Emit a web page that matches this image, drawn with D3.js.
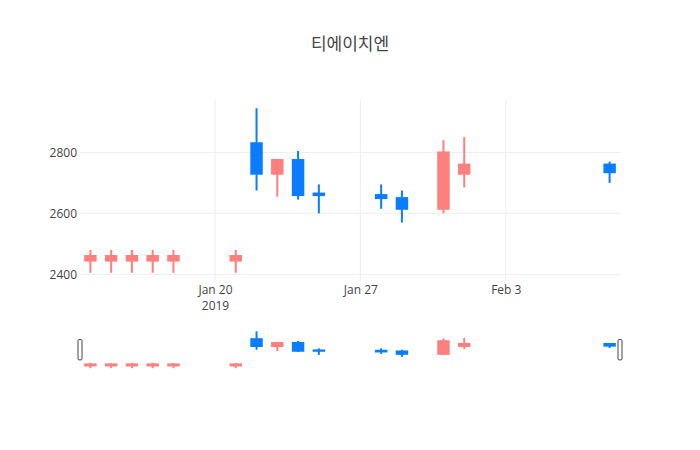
<!DOCTYPE html>
<html>
<head>
<meta charset="utf-8">
<script src="https://cdn.jsdelivr.net/npm/d3@7"></script>
<style>
  body { margin: 0; background: #fff; }
  svg { display: block; font-family: "Open Sans", "Noto Sans CJK KR", sans-serif; }
</style>
</head>
<body>
<div id="chart"></div>
<script>
const title = "티에이치엔";
const dates = ["2019-01-14","2019-01-15","2019-01-16","2019-01-17","2019-01-18","2019-01-21",
               "2019-01-22","2019-01-23","2019-01-24","2019-01-25","2019-01-28","2019-01-29",
               "2019-01-31","2019-02-01","2019-02-08"];
const open  = [2445,2445,2445,2445,2445,2445,2830,2730,2775,2665,2660,2650,2615,2730,2760];
const high  = [2480,2480,2480,2480,2480,2480,2945,2775,2805,2695,2695,2675,2840,2850,2770];
const low   = [2405,2405,2405,2405,2405,2405,2675,2655,2645,2600,2615,2570,2600,2685,2700];
const close = [2460,2460,2460,2460,2460,2460,2730,2775,2660,2660,2650,2615,2800,2760,2735];
const yTicks = [2400, 2600, 2800];
const xTicks = ["2019-01-20","2019-01-27","2019-02-03"];
const xTickLabels = ["Jan 20", "Jan 27", "Feb 3"];
const xRange = ["2019-01-13T12:00:00","2019-02-08T12:00:00"];

const incColor = "#FF7F7F";
const decColor = "#0A7DFF";

const W = 700, H = 450;
const plot = {l: 80, r: 620, t: 100, b: 281};
const slider = {t: 329.5, b: 370};

const parse = d3.isoParse;
const data = dates.map((d, i) => ({date: parse(d), o: open[i], h: high[i], l: low[i], c: close[i]}));

const svg = d3.select("#chart").append("svg").attr("width", W).attr("height", H);

const x = d3.scaleUtc().domain(xRange.map(parse)).range([plot.l, plot.r]);
const lo = d3.min(low), hi = d3.max(high), pad = (hi - lo) * 0.05;
const y = d3.scaleLinear().domain([lo - pad, hi + pad]).range([plot.b, plot.t]);
const ys = d3.scaleLinear().domain([lo - pad, hi + pad]).range([slider.b, slider.t]);

const dayPx = x(parse("2019-01-02")) - x(parse("2019-01-01"));
const bodyW = dayPx * 0.6;

// title
svg.append("text").attr("x", W / 2).attr("y", 50).attr("text-anchor", "middle")
  .attr("font-size", 17).attr("fill", "#444").text(title);

// gridlines
const grid = svg.append("g");
grid.selectAll("line.h").data(yTicks).join("line")
  .attr("x1", plot.l).attr("x2", plot.r)
  .attr("y1", d => y(d)).attr("y2", d => y(d))
  .attr("stroke", "#eee").attr("stroke-width", 1);
grid.selectAll("line.v").data(xTicks).join("line")
  .attr("x1", d => x(parse(d))).attr("x2", d => x(parse(d)))
  .attr("y1", plot.t).attr("y2", plot.b)
  .attr("stroke", "#eee").attr("stroke-width", 1);

// y axis labels
const yAxis = d3.axisLeft(y).tickValues(yTicks).tickSize(0).tickPadding(3).tickFormat(d3.format("d"));
const yg = svg.append("g").attr("transform", `translate(${plot.l - 0},0)`).call(yAxis);
yg.select(".domain").remove();
yg.selectAll("text").attr("font-size", 12).attr("fill", "#444").attr("font-family", "'Open Sans', sans-serif");

// x axis labels
const xAxis = d3.axisBottom(x).tickValues(xTicks.map(parse)).tickSize(0).tickPadding(0)
  .tickFormat((d, i) => xTickLabels[i]);
const xg = svg.append("g").attr("transform", `translate(0,${plot.b})`).call(xAxis);
xg.select(".domain").remove();
xg.selectAll("text").attr("font-size", 12).attr("fill", "#444").attr("font-family", "'Open Sans', sans-serif")
  .attr("dy", null).attr("y", 13);
xg.select(".tick text").append("tspan").attr("x", 0).attr("dy", "1.35em").text("2019");
xg.selectAll(".tick text").each(function() {
  const t = d3.select(this);
  // first text node is label; keep as-is
});

function drawCandles(g, ys) {
  const c = g.selectAll("g.candle").data(data).join("g").attr("class", "candle");
  c.append("line")
    .attr("x1", d => x(d.date)).attr("x2", d => x(d.date))
    .attr("y1", d => ys(d.h)).attr("y2", d => ys(d.l))
    .attr("stroke", d => d.c >= d.o ? incColor : decColor).attr("stroke-width", 2);
  c.append("rect")
    .attr("x", d => x(d.date) - bodyW / 2 + 1)
    .attr("width", bodyW - 2)
    .attr("y", d => ys(Math.max(d.o, d.c)))
    .attr("height", d => Math.max(0.01, ys(Math.min(d.o, d.c)) - ys(Math.max(d.o, d.c))))
    .attr("fill", d => d.c >= d.o ? incColor : decColor)
    .attr("stroke", d => d.c >= d.o ? incColor : decColor).attr("stroke-width", 2);
}

drawCandles(svg.append("g"), y);

// range slider
const sg = svg.append("g");
sg.append("rect").attr("x", plot.l).attr("y", slider.t).attr("width", plot.r - plot.l)
  .attr("height", slider.b - slider.t).attr("fill", "#fff");
drawCandles(sg.append("g"), ys);
const hh = (slider.b - slider.t) / 2;
[plot.l, plot.r].forEach(px => {
  sg.append("rect").attr("x", px - 2).attr("y", slider.t + hh / 2).attr("width", 4).attr("height", hh)
    .attr("rx", 1).attr("fill", "#fff").attr("stroke", "#444").attr("stroke-width", 1);
});
</script>
</body>
</html>
